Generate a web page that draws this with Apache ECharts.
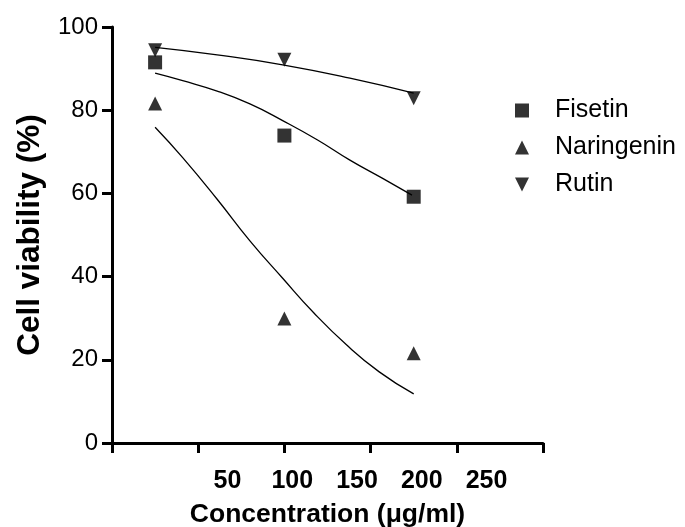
<!DOCTYPE html>
<html>
<head>
<meta charset="utf-8">
<title>Cell viability</title>
<script src="https://cdn.jsdelivr.net/npm/echarts@6/dist/echarts.min.js"></script>
<style>
  html, body { margin: 0; padding: 0; background: #fff; }
  #chart { width: 685px; height: 527px; }
</style>
</head>
<body>
<div id="chart"></div>
<script>
// measured points (µg/ml)
const concentrations = [25, 100, 175]
const fisetin = [91.5, 73.9, 59.2]
const naringenin = [81.6, 29.9, 21.6]
const rutin = [94.4, 92.1, 82.9]

// fitted curves
const fisetinFitX = [25, 41, 61, 80, 99, 119, 138, 157, 174]
const fisetinFitY = [88.9, 87.1, 84.6, 81.5, 77.5, 72.9, 68.0, 63.6, 59.6]
const naringeninFitX = [25, 41, 61, 80, 99, 117, 136, 155, 175]
const naringeninFitY = [75.9, 68.6, 58.6, 48.6, 39.6, 31.3, 23.6, 17.1, 11.8]
const rutinFitX = [25, 61, 99, 138, 175]
const rutinFitY = [95.1, 93.3, 90.9, 87.7, 84.1]

const xTickLabels = [50, 100, 150, 200, 250]

const font = 'Liberation Sans, Arial, sans-serif'

const pairs = (xs, ys) => xs.map((x, i) => [x, ys[i]])

const fitLine = (name, xs, ys) => ({
  name: name,
  type: 'line',
  data: pairs(xs, ys),
  smooth: 0.5,
  showSymbol: false,
  silent: true,
  lineStyle: { color: '#000', width: 1.3 },
  z: 1
})

const chart = echarts.init(document.getElementById('chart'))

const option = {
  backgroundColor: '#fff',
  animation: false,
  textStyle: { fontFamily: font, color: '#000' },
  grid: { left: 112, right: 142, top: 27, bottom: 84, outerBoundsMode: 'none', containLabel: false },
  legend: {
    orient: 'vertical',
    left: 510,
    top: 93,
    itemWidth: 14,
    itemHeight: 14,
    itemGap: 12,
    data: [
      { name: 'Fisetin', icon: 'rect' },
      { name: 'Naringenin', icon: 'triangle' },
      { name: 'Rutin', icon: 'path://M0,0L2,0L1,2Z' }
    ],
    textStyle: { fontSize: 25, color: '#000', fontFamily: font, padding: [0, 0, 0, 21] }
  },
  xAxis: [
    {
      type: 'value',
      min: 0,
      max: 250,
      interval: 50,
      name: 'Concentration (μg/ml)',
      nameLocation: 'middle',
      nameGap: 58,
      nameTextStyle: { fontSize: 26.5, fontWeight: 'bold', color: '#000', fontFamily: font },
      axisLine: { lineStyle: { color: '#000', width: 3 } },
      axisTick: { length: 10, lineStyle: { color: '#000', width: 3 } },
      axisLabel: { show: false },
      splitLine: { show: false }
    },
    {
      // label-only axis; the original's tick labels sit off the ticks
      type: 'value',
      min: -39.2,
      max: 293.6,
      position: 'bottom',
      axisLine: { show: false },
      axisTick: { show: false },
      splitLine: { show: false },
      axisLabel: {
        customValues: xTickLabels,
        margin: 26,
        fontSize: 25,
        fontWeight: 'bold',
        color: '#000',
        fontFamily: font
      }
    }
  ],
  yAxis: {
    type: 'value',
    min: 0,
    max: 100,
    interval: 20,
    name: 'Cell viability (%)',
    nameLocation: 'middle',
    nameGap: 66,
    nameTextStyle: { fontSize: 31.5, fontWeight: 'bold', color: '#000', fontFamily: font },
    axisLine: { show: true, lineStyle: { color: '#000', width: 3 } },
    axisTick: { show: true, length: 10, lineStyle: { color: '#000', width: 3 } },
    axisLabel: { fontSize: 24, color: '#000', margin: 14, fontFamily: font },
    splitLine: { show: false }
  },
  series: [
    fitLine('Fisetin fit', fisetinFitX, fisetinFitY),
    fitLine('Naringenin fit', naringeninFitX, naringeninFitY),
    fitLine('Rutin fit', rutinFitX, rutinFitY),
    {
      name: 'Fisetin',
      type: 'scatter',
      symbol: 'rect',
      symbolSize: 14,
      itemStyle: { color: '#000' },
      data: pairs(concentrations, fisetin),
      z: 3
    },
    {
      name: 'Naringenin',
      type: 'scatter',
      symbol: 'triangle',
      symbolSize: 14,
      itemStyle: { color: '#000' },
      data: pairs(concentrations, naringenin),
      z: 3
    },
    {
      name: 'Rutin',
      type: 'scatter',
      symbol: 'triangle',
      symbolRotate: 180,
      symbolSize: 14,
      itemStyle: { color: '#000' },
      data: pairs(concentrations, rutin),
      z: 3
    }
  ]
}

chart.setOption(option)
</script>
</body>
</html>
